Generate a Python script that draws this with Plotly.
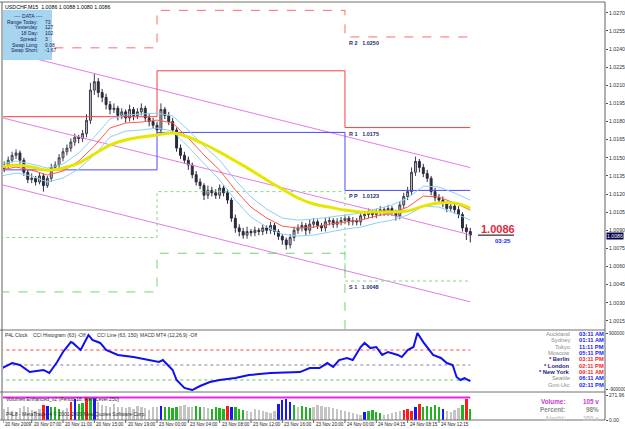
import plotly.graph_objects as go

# ---------------- DATA ----------------
# one sample every 2 M15 bars (bar number counted from 20 Nov 03:00)
sample_bar = list(range(2, 242, 2))

open_ = [1.0141,1.0144,1.0148,1.0152,1.0154,1.0148,1.0138,1.0132,1.0133,1.0130,
         1.0135,1.0127,1.0133,1.0142,1.0144,1.0150,1.0155,1.0158,1.0163,1.0167,
         1.0166,1.0170,1.0181,1.0206,1.0213,1.0204,1.0200,1.0194,1.0190,1.0191,
         1.0185,1.0188,1.0183,1.0190,1.0185,1.0188,1.0191,1.0183,1.0180,1.0177,
         1.0173,1.0190,1.0185,1.0180,1.0173,1.0158,1.0152,1.0148,1.0144,1.0136,
         1.0130,1.0127,1.0119,1.0123,1.0121,1.0119,1.0125,1.0121,1.0115,1.0100,
         1.0092,1.0089,1.0086,1.0089,1.0088,1.0090,1.0089,1.0092,1.0090,1.0094,
         1.0089,1.0085,1.0082,1.0078,1.0084,1.0090,1.0092,1.0094,1.0090,1.0095,
         1.0097,1.0094,1.0092,1.0097,1.0098,1.0095,1.0097,1.0098,1.0100,1.0097,
         1.0098,1.0097,1.0102,1.0103,1.0105,1.0103,1.0105,1.0107,1.0105,1.0108,
         1.0105,1.0102,1.0111,1.0118,1.0122,1.0138,1.0147,1.0142,1.0137,1.0133,
         1.0122,1.0117,1.0115,1.0112,1.0108,1.0110,1.0107,1.0103,1.0092,1.0089]
high = [1.0147,1.0151,1.0155,1.0157,1.0156,1.0150,1.0140,1.0137,1.0135,1.0138,
        1.0137,1.0135,1.0145,1.0147,1.0153,1.0158,1.0161,1.0166,1.0170,1.0169,
        1.0173,1.0186,1.0212,1.0220,1.0216,1.0207,1.0203,1.0197,1.0195,1.0193,
        1.0191,1.0190,1.0194,1.0192,1.0191,1.0195,1.0193,1.0186,1.0183,1.0180,
        1.0195,1.0192,1.0188,1.0183,1.0175,1.0161,1.0155,1.0151,1.0146,1.0139,
        1.0133,1.0129,1.0127,1.0126,1.0124,1.0128,1.0127,1.0124,1.0117,1.0103,
        1.0095,1.0092,1.0093,1.0091,1.0093,1.0092,1.0095,1.0094,1.0097,1.0096,
        1.0091,1.0087,1.0084,1.0087,1.0093,1.0095,1.0097,1.0096,1.0099,1.0100,
        1.0099,1.0096,1.0100,1.0101,1.0100,1.0100,1.0101,1.0103,1.0102,1.0101,
        1.0100,1.0105,1.0106,1.0108,1.0107,1.0108,1.0110,1.0109,1.0111,1.0110,
        1.0107,1.0114,1.0121,1.0126,1.0142,1.0151,1.0149,1.0145,1.0140,1.0135,
        1.0125,1.0120,1.0118,1.0114,1.0113,1.0112,1.0110,1.0105,1.0095,1.0092]
low = [1.0138,1.0141,1.0146,1.0149,1.0145,1.0135,1.0129,1.0129,1.0127,1.0128,
       1.0122,1.0125,1.0130,1.0139,1.0141,1.0147,1.0152,1.0155,1.0160,1.0162,
       1.0163,1.0167,1.0178,1.0202,1.0200,1.0196,1.0190,1.0186,1.0187,1.0181,
       1.0182,1.0179,1.0180,1.0181,1.0182,1.0185,1.0180,1.0176,1.0174,1.0170,
       1.0170,1.0182,1.0177,1.0170,1.0155,1.0149,1.0145,1.0140,1.0133,1.0127,
       1.0124,1.0115,1.0116,1.0118,1.0116,1.0116,1.0118,1.0112,1.0097,1.0088,
       1.0085,1.0083,1.0083,1.0085,1.0085,1.0086,1.0086,1.0087,1.0087,1.0086,
       1.0082,1.0078,1.0074,1.0075,1.0081,1.0087,1.0089,1.0086,1.0087,1.0092,
       1.0091,1.0089,1.0089,1.0094,1.0092,1.0092,1.0094,1.0095,1.0094,1.0094,
       1.0094,1.0094,1.0099,1.0100,1.0100,1.0100,1.0102,1.0102,1.0102,1.0102,
       1.0098,1.0099,1.0108,1.0115,1.0119,1.0135,1.0138,1.0134,1.0130,1.0119,
       1.0114,1.0112,1.0109,1.0105,1.0105,1.0104,1.0100,1.0089,1.0082,1.0080]
close = [1.0144,1.0148,1.0152,1.0154,1.0148,1.0138,1.0132,1.0133,1.0130,1.0135,
         1.0127,1.0133,1.0142,1.0144,1.0150,1.0155,1.0158,1.0163,1.0167,1.0166,
         1.0170,1.0181,1.0206,1.0213,1.0204,1.0200,1.0194,1.0190,1.0191,1.0185,
         1.0188,1.0183,1.0190,1.0185,1.0188,1.0191,1.0183,1.0180,1.0177,1.0173,
         1.0190,1.0185,1.0180,1.0173,1.0158,1.0152,1.0148,1.0144,1.0136,1.0130,
         1.0127,1.0119,1.0123,1.0121,1.0119,1.0125,1.0121,1.0115,1.0100,1.0092,
         1.0089,1.0086,1.0089,1.0088,1.0090,1.0089,1.0092,1.0090,1.0094,1.0089,
         1.0085,1.0082,1.0078,1.0084,1.0090,1.0092,1.0094,1.0090,1.0095,1.0097,
         1.0094,1.0092,1.0097,1.0098,1.0095,1.0097,1.0098,1.0100,1.0097,1.0098,
         1.0097,1.0102,1.0103,1.0105,1.0103,1.0105,1.0107,1.0105,1.0108,1.0105,
         1.0102,1.0111,1.0118,1.0122,1.0138,1.0147,1.0142,1.0137,1.0133,1.0122,
         1.0117,1.0115,1.0112,1.0108,1.0110,1.0107,1.0103,1.0092,1.0089,1.0086]

# moving averages, sampled every 8 bars
ma_bar = list(range(0, 241, 8))
ma_slow = [1.01423,1.01440,1.01423,1.01398,1.01415,1.01456,1.01531,1.01605,1.01647,1.01672,
           1.01688,1.01705,1.01672,1.01614,1.01547,1.01473,1.01398,1.01316,1.01241,1.01167,
           1.01117,1.01092,1.01067,1.01051,1.01051,1.01051,1.01059,1.01100,1.01125,1.01125,1.01084]
ma_fast = [1.01398,1.01423,1.01398,1.01357,1.01390,1.01473,1.01597,1.01746,1.01788,1.01796,
           1.01812,1.01788,1.01663,1.01523,1.01398,1.01233,1.01092,1.01001,1.00935,1.00918,
           1.00926,1.00951,1.00968,1.00984,1.01018,1.01042,1.01092,1.01183,1.01175,1.01125,1.01067]
band_up = [1.01448,1.01473,1.01448,1.01415,1.01448,1.01539,1.01672,1.01821,1.01854,1.01862,
           1.01870,1.01846,1.01730,1.01597,1.01481,1.01316,1.01175,1.01075,1.01001,1.00984,
           1.00993,1.01009,1.01026,1.01042,1.01075,1.01109,1.01167,1.01266,1.01258,1.01208,1.01150]
band_dn = [1.01349,1.01374,1.01349,1.01299,1.01332,1.01407,1.01523,1.01672,1.01721,1.01730,
           1.01746,1.01721,1.01589,1.01448,1.01316,1.01150,1.01009,1.00926,1.00868,1.00852,
           1.00860,1.00885,1.00910,1.00926,1.00960,1.00984,1.01026,1.01100,1.01092,1.01042,1.00984]

# regression channel (start / end)
ch_bar = [0, 240]
ch_upper = [1.02392, 1.01419]
ch_mid = [1.01835, 1.00863]
ch_lower = [1.01280, 1.00308]

# daily pivots (20 Nov, 23 Nov, 24 Nov)
day_bar = [0, 80, 176, 240]
piv_R2 = [1.0241, 1.0272, 1.0250]
piv_R1 = [1.0184, 1.0222, 1.0175]
piv_PP = [1.0140, 1.0171, 1.0123]
piv_S1 = [1.0084, 1.0122, 1.0048]
piv_S2 = [1.0039, 1.0071, 0.9996]

# CCI line (63)
cci_bar = [1,6,10,15,22,25,29,32,36,37,41,45,47,51,54,60,68,76,81,83,88,90,94,98,102,107,
           112,120,127,138,148,153,158,163,167,170,173,177,180,184,186,189,192,195,198,203,
           205,208,211,213,216,218,221,225,228,231,233,235,237,240]
cci_val = [-20,13,0,-47,-33,-53,20,87,153,147,100,200,167,147,100,67,53,33,20,33,-33,-100,
           -153,-167,-140,-113,-100,-87,-67,-53,-47,-47,-20,-20,13,-13,33,47,33,120,147,113,
           120,67,87,67,53,100,120,213,153,120,67,47,13,0,-80,-100,-87,-107]
cci_levels = [100, 0, -100]

# Volumes Enhanced
volume = [120,140,100,90,130,160,150,110,100,120,
          170,160,150,140,120,110,130,200,230,180,
          190,250,260,240,200,170,160,150,180,140,
          150,130,140,120,160,150,130,110,140,150,
          160,150,140,130,150,160,170,140,150,160,
          140,150,130,120,140,130,120,160,140,150,
          120,110,100,90,120,110,100,90,80,100,
          180,220,230,200,170,150,160,140,130,150,
          170,160,150,140,130,120,110,100,90,80,
          70,60,90,100,110,90,80,60,70,80,
          90,100,110,120,100,150,180,140,160,150,
          170,140,120,100,90,110,130,170,230,120]
vol_code = ("gggggggggg" "RBGGGggRBG" "GRGBgggggg" "gggggggggg" "BGGGGggggG"
            "GggGGGGRBG" "GGgggggggg" "BBBBGgGGGg" "gggggggggg" "ggBGGGGggg"
            "ggRRRBRGGG" "GGBggggGRG")
alert_level = 250

price_ticks = [1.0015,1.0030,1.0045,1.0060,1.0075,1.0090,1.0105,1.0120,1.0135,1.0150,
               1.0165,1.0180,1.0195,1.0210,1.0225,1.0240,1.0255,1.0270]
time_labels = ["20 Nov 2009","20 Nov 07:00","20 Nov 11:00","20 Nov 15:00","20 Nov 19:00",
               "23 Nov 00:00","23 Nov 04:00","23 Nov 08:00","23 Nov 12:00","23 Nov 16:00",
               "23 Nov 20:00","24 Nov 00:00","24 Nov 04:15","24 Nov 08:15","24 Nov 12:15"]
time_bar = [0,16,32,48,64,80,96,112,128,144,160,176,192,208,224]

last_price = 1.0086
data_rows = [("Range Today:", "73"), ("Yesterday:", "127"), ("18 Day:", "102"),
             ("Spread:", "3"), ("Swap Long:", "0.08"), ("Swap Short:", "-1.67")]
clock_city = ["Auckland","Sydney","Tokyo","Moscow","* Berlin","* London","* New York","Seattle","Gmt-Utc"]
clock_time = ["03:11 AM","01:11 AM","11:11 PM","05:11 PM","03:11 PM","02:11 PM","09:11 AM","06:11 AM","02:11 PM"]
clock_star = [False,False,False,False,True,True,True,False,False]

# ---------------- LAYOUT HELPERS ----------------
W, H = 625, 429
FONT = "Liberation Sans"
def px(x): return x / W
def py(y): return 1 - y / H

X0, X1 = 1.35, 308.8

fig = go.Figure()

# channel
for vals in (ch_upper, ch_mid, ch_lower):
    fig.add_trace(go.Scatter(x=ch_bar, y=vals, mode="lines",
                             line=dict(color="#e47ce4", width=1), hoverinfo="skip"))

# pivots
piv_style = [(piv_R2, "#ff6a6a", "dash"), (piv_R1, "#ff3b3b", "solid"),
             (piv_PP, "#4a4aff", "solid"), (piv_S1, "#7ddc7d", "dot"),
             (piv_S2, "#6fd66f", "dash")]
for vals, col, dash in piv_style:
    fig.add_trace(go.Scatter(x=day_bar, y=vals + [vals[-1]], mode="lines", line_shape="hv",
                             line=dict(color=col, width=1, dash=dash), hoverinfo="skip"))

# MAs
fig.add_trace(go.Scatter(x=ma_bar, y=band_up, mode="lines", line=dict(color="#8fd0f5", width=1), hoverinfo="skip"))
fig.add_trace(go.Scatter(x=ma_bar, y=band_dn, mode="lines", line=dict(color="#8fd0f5", width=1), hoverinfo="skip"))
fig.add_trace(go.Scatter(x=ma_bar, y=ma_fast, mode="lines", line=dict(color="#ff5a4a", width=1), hoverinfo="skip"))
fig.add_trace(go.Scatter(x=ma_bar, y=ma_slow, mode="lines", line=dict(color="#e6e600", width=3, shape="spline"), hoverinfo="skip"))

# candles
fig.add_trace(go.Candlestick(x=sample_bar, open=open_, high=high, low=low, close=close,
                             increasing=dict(line=dict(color="#3c3c4c", width=1), fillcolor="#bdbdc4"),
                             decreasing=dict(line=dict(color="#2a2a3a", width=1), fillcolor="#2a2a3a"),
                             whiskerwidth=0, hoverinfo="skip"))

# CCI panel
for lv, col in zip(cci_levels, ["#ff4040", "#8080a0", "#60c060"]):
    fig.add_trace(go.Scatter(x=[0, 240], y=[lv, lv], yaxis="y2", mode="lines",
                             line=dict(color=col, width=1, dash="dot"), hoverinfo="skip"))
fig.add_trace(go.Scatter(x=cci_bar, y=cci_val, yaxis="y2", mode="lines",
                         line=dict(color="#1010ee", width=2), hoverinfo="skip"))

# Volume panel
cmap = {"g": "#c4c4c4", "G": "#1fb51f", "B": "#1515ff", "R": "#ff1a1a"}
fig.add_trace(go.Bar(x=sample_bar, y=volume, yaxis="y3", width=1.2,
                     marker=dict(color=[cmap[c] for c in vol_code], line=dict(width=0)),
                     hoverinfo="skip"))
fig.add_trace(go.Scatter(x=[0, 240], y=[alert_level, alert_level], yaxis="y3", mode="lines",
                         line=dict(color="#ee22ee", width=2), hoverinfo="skip"))

def axis_common(size):
    return dict(showgrid=False, zeroline=False, showline=False, ticks="outside", automargin=False,
                ticklen=2, tickcolor="#505050", ticklabelstandoff=0,
                tickfont=dict(size=size, family=FONT, color="#303030"))
fig.update_layout(
    width=W, height=H, margin=dict(l=0, r=0, t=0, b=0, autoexpand=False),
    paper_bgcolor="white", plot_bgcolor="white", showlegend=False,
    xaxis=dict(domain=[px(3), px(605)], range=[X0, X1], showticklabels=False, showgrid=False,
               zeroline=False, showline=False, ticks="", automargin=False,
               rangeslider=dict(visible=False)),
    yaxis=dict(domain=[py(329), py(3)], range=[1.00083, 1.02781], side="right",
               tickvals=price_ticks, tickformat=".4f", **axis_common(5.2)),
    yaxis2=dict(domain=[py(391), py(331)], range=[-173.3, 226.7], side="right", anchor="x",
                tickvals=[213, -160], ticktext=["900000", "-900000"], **axis_common(4.6)),
    yaxis3=dict(domain=[py(420), py(393)], range=[0, 300], side="right", anchor="x",
                tickvals=[271.96, 0], ticktext=["271.96", "0.00"], **axis_common(5)),
    bargap=0,
)

shapes = []
def hline(y, x0=0, x1=605, col="#707070", w=1):
    shapes.append(dict(type="line", xref="paper", yref="paper", x0=px(x0), x1=px(x1),
                       y0=py(y), y1=py(y), line=dict(color=col, width=w)))
hline(2); hline(330); hline(392); hline(420)
shapes.append(dict(type="line", xref="paper", yref="paper", x0=px(605), x1=px(605),
                   y0=py(2), y1=py(420), line=dict(color="#606060", width=1)))
shapes.append(dict(type="line", xref="paper", yref="paper", x0=px(2), x1=px(2),
                   y0=py(2), y1=py(420), line=dict(color="#606060", width=1)))
# DATA box
shapes.append(dict(type="rect", xref="paper", yref="paper", x0=px(3), x1=px(52),
                   y0=py(60), y1=py(10), fillcolor="#a6d6ef", line=dict(width=0)))
# line under big price
shapes.append(dict(type="line", xref="paper", yref="y", x0=px(478), x1=px(514),
                   y0=last_price, y1=last_price, line=dict(color="#000000", width=1)))
# time ticks
for b in time_bar:
    shapes.append(dict(type="line", xref="x", yref="paper", x0=max(b, X0), x1=max(b, X0),
                       y0=py(420), y1=py(423), line=dict(color="#606060", width=1)))
fig.update_layout(shapes=shapes)

ann = []
def text(x, y, s, size=6, color="#202020", xanchor="left", bold=False, yref="paper", xref="paper", **kw):
    ann.append(dict(x=x, y=y, xref=xref, yref=yref, text=("<b>%s</b>" % s) if bold else s,
                    showarrow=False, xanchor=xanchor, yanchor="middle",
                    font=dict(size=size, family=FONT, color=color), **kw))

text(px(3), py(7), "USDCHF,M15  1.0086 1.0088 1.0080 1.0086", size=5.3, color="#000000")
text(px(28), py(16), "---- DATA ----", size=5, color="#1a1a60", xanchor="center")
for i, (lab, val) in enumerate(data_rows):
    yy = py(21.5 + 5.8 * i)
    text(px(40), yy, lab, size=5, color="#1a1a60", xanchor="right")
    text(px(42.5), yy, val, size=5, color="#1a1a60")

for lab, vals in (("R 2", piv_R2), ("R 1", piv_R1), ("P P", piv_PP), ("S 1", piv_S1)):
    ann.append(dict(x=177, y=vals[-1], xref="x", yref="y", text="<b>%s   %.4f</b>" % (lab, vals[-1]),
                    showarrow=False, xanchor="left", yanchor="top", yshift=-1,
                    font=dict(size=5.5, family=FONT, color="#2b2b70")))

text(px(498), py(229), "1.0086", size=11, color="#e5283c", xanchor="center", bold=True)
text(px(503), py(241), "03:25", size=6, color="#2020ff", xanchor="center", bold=True)
ann.append(dict(x=px(606), y=last_price, xref="paper", yref="y", text="1.0086", showarrow=False,
                xanchor="left", yanchor="top", yshift=3, bgcolor="#000048", borderpad=0,
                font=dict(size=5.2, family=FONT, color="#ffffff")))

for x, s in ((3, "P4L Clock"), (31, "CCI Histogram (63) -Off"), (95, "CCI Line (63, 150)"),
             (138, "MACD MT4 (12,26,9) -Off")):
    text(px(x), py(334.5), s, size=5, color="#303030")

for i, (city, tm, star) in enumerate(zip(clock_city, clock_time, clock_star)):
    yy = py(334 + 6.35 * i)
    text(px(572), yy, city, size=5.8, color="#1a1a80" if star else "#8a8a8a", xanchor="right", bold=star)
    text(px(577), yy, tm, size=5.8, color="#ff2020" if star else "#1a1aff", bold=True)

text(px(4), py(399), "Volumes Enhanced_v2 (Period 18, Alert Level 250)", size=5, color="#303030")
text(px(4), py(414), "P4L8 - MetaTrader 4 \u00a9 2001-2009 MetaQuotes Software Corp.", size=5, color="#303030")
for yy, lab, val, col in ((401, "Volume:", "105 v", "#c83ac8"), (409.5, "Percent:", "98%", "#8c8c8c"),
                          (418, "AlertV:", "250 v", "#c8c8c8")):
    text(px(567), py(yy), lab, size=6.3, color=col, xanchor="right", bold=True)
    text(px(601), py(yy), val, size=6.3, color=col, xanchor="right", bold=True)

for b, s in zip(time_bar, time_labels):
    ann.append(dict(x=max(b, X0), y=py(424.5), xref="x", yref="paper", text=s, showarrow=False,
                    xanchor="left", yanchor="middle", xshift=0,
                    font=dict(size=4.6, family=FONT, color="#202020")))

fig.update_layout(annotations=ann)
fig.write_html("out.html")
